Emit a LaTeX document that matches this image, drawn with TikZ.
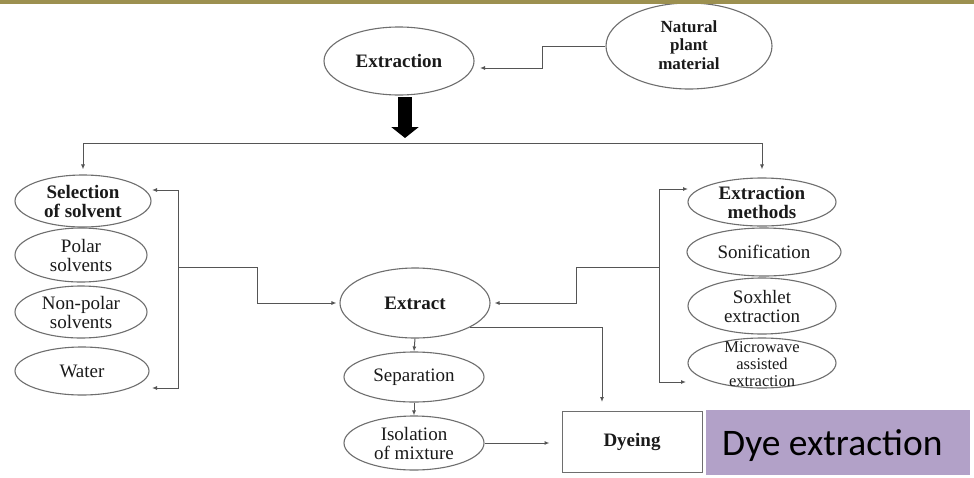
\documentclass[tikz,border=0pt]{standalone}
\usepackage{fontspec}
\setmainfont{Liberation Serif}
\newfontfamily\carl{Carlito}
\usetikzlibrary{shapes.geometric,arrows.meta,calc}
\definecolor{barcol}{HTML}{9C9050}
\definecolor{lncol}{HTML}{555555}
\definecolor{ellcol}{HTML}{6E6E6E}
\definecolor{txtcol}{HTML}{1A1A1A}
\definecolor{purp}{HTML}{B2A1C8}
\begin{document}
\begin{tikzpicture}[x=1pt,y=-1pt,
  ell/.style={draw=ellcol, line width=1.1pt, ellipse, inner sep=0pt},
  lbl/.style={align=center, text=txtcol, font=\fontsize{19}{19}\selectfont},
  blbl/.style={align=center, text=txtcol, font=\fontsize{19}{19}\selectfont\bfseries},
  ln/.style={draw=lncol, line width=1pt},
  arr/.style={ln, -{Latex[length=5pt,width=4pt]}},
]
\useasboundingbox (0,0) rectangle (974,477);
\fill[white] (0,0) rectangle (974,477);

% ellipses
\node[ell, minimum width=150pt, minimum height=68pt] (extraction) at (399,61) {};
\node[blbl] (extractionT) at (extraction) {Extraction};
\node[ell, minimum width=166pt, minimum height=86pt] (natural) at (689,46) {};
\node[blbl, font=\fontsize{17}{18.5}\selectfont\bfseries] (naturalT) at (689,45) {Natural\\plant\\material};

\node[ell, minimum width=136pt, minimum height=52pt] (sel) at (83,201) {};
\node[blbl] (selT) at (sel) {Selection\\of solvent};
\node[ell, minimum width=132pt, minimum height=54pt] (polar) at (81,255) {};
\node[lbl] (polarT) at (polar) {Polar\\solvents};
\node[ell, minimum width=132pt, minimum height=52pt] (nonpolar) at (81,312) {};
\node[lbl] (nonpolarT) at (nonpolar) {Non-polar\\solvents};
\node[ell, minimum width=134pt, minimum height=48pt] (water) at (82,371) {};
\node[lbl] (waterT) at (water) {Water};

\node[ell, minimum width=148pt, minimum height=48pt] (meth) at (762,202) {};
\node[blbl] (methT) at (meth) {Extraction\\methods};
\node[ell, minimum width=154pt, minimum height=48pt] (soni) at (764,252) {};
\node[lbl] (soniT) at (soni) {Sonification};
\node[ell, minimum width=148pt, minimum height=56pt] (sox) at (762,306) {};
\node[lbl] (soxT) at (sox) {Soxhlet\\extraction};
\node[ell, minimum width=148pt, minimum height=50pt] (micro) at (762,363) {};
\node[lbl, font=\fontsize{16.5}{17}\selectfont] (microT) at (762,364) {Microwave\\assisted\\extraction};

\node[ell, minimum width=150pt, minimum height=70pt] (ext) at (415,303) {};
\node[blbl] (extT) at (ext) {Extract};
\node[ell, minimum width=140pt, minimum height=50pt] (sep) at (414,377) {};
\node[lbl] (sepT) at (sep) {Separation};
\node[ell, minimum width=140pt, minimum height=54pt] (iso) at (414,443) {};
\node[lbl] (isoT) at (iso) {Isolation\\of mixture};

% boxes
\node[draw=ellcol, line width=1pt, minimum width=140pt, minimum height=61pt, inner sep=0pt] (dye) at (632,441.5) {};
\node[blbl] (dyeT) at (dye) {Dyeing};
\node[fill=purp, minimum width=264pt, minimum height=65pt, inner sep=0pt, anchor=north west] (dyex) at (706,410) {};
\node[anchor=base west, inner sep=0pt, text=black, font=\carl\fontsize{37.5}{37.5}\selectfont] (dyexT) at (722,455) {Dye extraction};

% connectors
\coordinate (nA) at (542,46);
\coordinate (extrIn) at (480,68);
\draw[arr] (natural.west) -- (nA) |- (extrIn);

\coordinate (thA) at (405,97);
\coordinate (thB) at (405,138);
\draw[line width=14pt, -{Triangle[length=11pt,width=27pt]}] (thA) -- (thB);

\coordinate (tl) at (83,143);
\coordinate (tr) at (762,143);
\draw[ln] (tl) -- (tr);
\draw[arr, shorten >=5pt] (tl) -- (sel.north);
\draw[arr, shorten >=8pt] (tr) -- (meth.north);

\coordinate (lb) at (178,267);
\coordinate (lk) at (257,267);
\coordinate (selIn) at (152,190);
\coordinate (watIn) at (152,388);
\draw[arr] (lb) |- (selIn);
\draw[arr] (lb) |- (watIn);
\draw[arr, shorten >=3pt] (lb) -- (lk) |- (ext.west);

\coordinate (rb) at (659,267);
\coordinate (rk) at (576,267);
\coordinate (methIn) at (688,189);
\coordinate (micIn) at (686,382);
\draw[arr] (rb) |- (methIn);
\draw[arr] (rb) |- (micIn);
\draw[arr, shorten >=4pt] (rb) -- (rk) |- (ext.east);

\draw[arr] (ext.south) -- (sep.north);
\draw[arr] (sep.south) -- (iso.north);
\draw[arr, shorten >=12pt] (iso.east) -- (iso.east -| dye.west);

\coordinate (extOut) at (470,327);
\coordinate (dyeIn) at (602,411);
\draw[arr, shorten >=9pt] (extOut) -| (dyeIn);

% top bar
\fill[barcol] (0,0) rectangle (974,3.5);
\end{tikzpicture}
\end{document}
